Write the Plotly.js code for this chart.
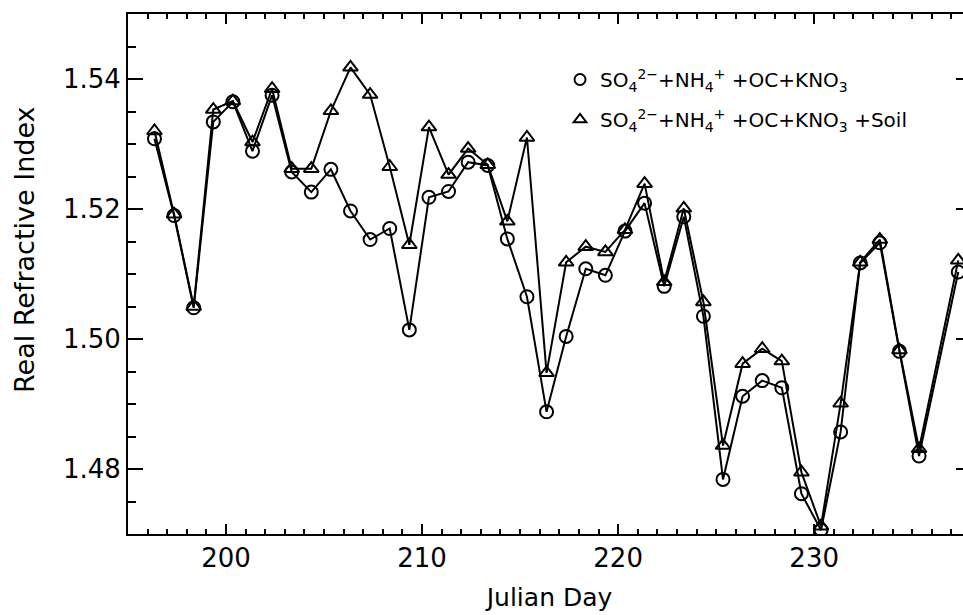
<!DOCTYPE html>
<html>
<head>
<meta charset="utf-8">
<script src="https://cdn.plot.ly/plotly-3.0.1.min.js"></script>
<style>
html,body{margin:0;padding:0;overflow:hidden;background:#fff;}
#chart{width:990px;height:615px;}
</style>
</head>
<body>
<div id="chart"></div>
<script>
// Julian day of each sample (day 236 missing)
const days = [196.35,197.35,198.35,199.35,200.35,201.35,202.35,203.35,204.35,205.35,
              206.35,207.35,208.35,209.35,210.35,211.35,212.35,213.35,214.35,215.35,
              216.35,217.35,218.35,219.35,220.35,221.35,222.35,223.35,224.35,225.35,
              226.35,227.35,228.35,229.35,230.35,231.35,232.35,233.35,234.35,235.35,
              237.35];
// SO4 + NH4 + OC + KNO3 (circles)
const nBase = [1.5308,1.5190,1.5048,1.5334,1.5365,1.5289,1.5375,1.5257,1.5226,1.5261,
               1.5197,1.5153,1.5170,1.5014,1.5218,1.5227,1.5272,1.5267,1.5154,1.5065,
               1.4888,1.5004,1.5108,1.5098,1.5166,1.5209,1.5081,1.5188,1.5035,1.4784,
               1.4912,1.4936,1.4925,1.4762,1.4706,1.4857,1.5117,1.5148,1.4981,1.4820,
               1.5103];
// ... + Soil (triangles)
const nSoil = [1.5320,1.5192,1.5050,1.5353,1.5366,1.5303,1.5385,1.5262,1.5262,1.5351,
               1.5418,1.5376,1.5265,1.5145,1.5326,1.5253,1.5293,1.5268,1.5181,1.5310,
               1.4948,1.5118,1.5142,1.5134,1.5168,1.5239,1.5088,1.5201,1.5057,1.4836,
               1.4962,1.4985,1.4966,1.4795,1.4712,1.4901,1.5118,1.5153,1.4983,1.4831,
               1.5121];
const xTickVals = [200,210,220,230];
const yTickVals = [1.48,1.50,1.52,1.54];
const nameBase = 'SO<sub>4</sub><sup>2−</sup>+NH<sub>4</sub><sup>+</sup> +OC+KNO<sub>3</sub>';
const nameSoil = 'SO<sub>4</sub><sup>2−</sup>+NH<sub>4</sub><sup>+</sup> +OC+KNO<sub>3</sub> +Soil';

const ink = '#000';
const traces = [
  {x: days, y: nSoil, mode: 'lines+markers', showlegend: false,
   line: {color: ink, width: 2},
   marker: {symbol: 'triangle-up-open', size: 13, color: ink, line: {width: 2, color: ink}}},
  {x: days, y: nBase, mode: 'lines+markers', showlegend: false,
   line: {color: ink, width: 2},
   marker: {symbol: 'circle-open', size: 13, color: ink, line: {width: 2, color: ink}}},
  {x: [null], y: [null], mode: 'markers', name: nameBase, legend: 'legend',
   marker: {symbol: 'circle-open', size: 11, color: ink, line: {width: 2, color: ink}}},
  {x: [null], y: [null], mode: 'markers', name: nameSoil, legend: 'legend2',
   marker: {symbol: 'triangle-up-open', size: 11, color: ink, line: {width: 2, color: ink}}}
];

const legFont = {family: 'DejaVu Sans', size: 20, color: ink};
const layout = {
  width: 990, height: 615,
  margin: {l: 128, r: 19, t: 14, b: 81},
  paper_bgcolor: '#fff', plot_bgcolor: '#fff',
  font: {family: 'DejaVu Sans', color: ink},
  showlegend: true,
  legend: {x: 0.5125, y: (534 - 60) / 520, xanchor: 'left', yanchor: 'top',
           bgcolor: 'rgba(0,0,0,0)', borderwidth: 0, font: legFont},
  legend2: {x: 0.5125, y: (534 - 100) / 520, xanchor: 'left', yanchor: 'top',
           bgcolor: 'rgba(0,0,0,0)', borderwidth: 0, font: legFont},
  xaxis: {
    range: [195, 238], showgrid: false, zeroline: false,
    showline: true, linecolor: ink, linewidth: 2, mirror: 'allticks',
    ticks: 'inside', ticklen: 10, tickwidth: 2, tickcolor: ink,
    tickvals: xTickVals, ticktext: xTickVals.map(String),
    minor: {dtick: 1, ticks: 'inside', ticklen: 5, tickwidth: 2, tickcolor: ink, showgrid: false},
    tickfont: {family: 'DejaVu Sans', size: 26, color: ink},
    title: {text: 'Julian Day', font: {family: 'DejaVu Sans', size: 25, color: ink}, standoff: 16}
  },
  yaxis: {
    range: [1.47, 1.55], showgrid: false, zeroline: false,
    showline: true, linecolor: ink, linewidth: 2, mirror: 'allticks',
    ticks: 'inside', ticklen: 15, tickwidth: 2, tickcolor: ink,
    tickvals: yTickVals, ticktext: yTickVals.map(v => v.toFixed(2)),
    minor: {dtick: 0.005, tick0: 1.47, ticks: 'inside', ticklen: 8, tickwidth: 2, tickcolor: ink, showgrid: false},
    tickfont: {family: 'DejaVu Sans', size: 26, color: ink}
  },
  annotations: [{
    text: 'Real Refractive Index', textangle: -90,
    xref: 'paper', yref: 'paper', x: (24 - 128) / 843, y: (534 - 250) / 520,
    xanchor: 'center', yanchor: 'middle', showarrow: false,
    font: {family: 'DejaVu Sans', size: 27, color: ink}
  }]
};

Plotly.newPlot('chart', traces, layout, {staticPlot: true});
</script>
</body>
</html>
